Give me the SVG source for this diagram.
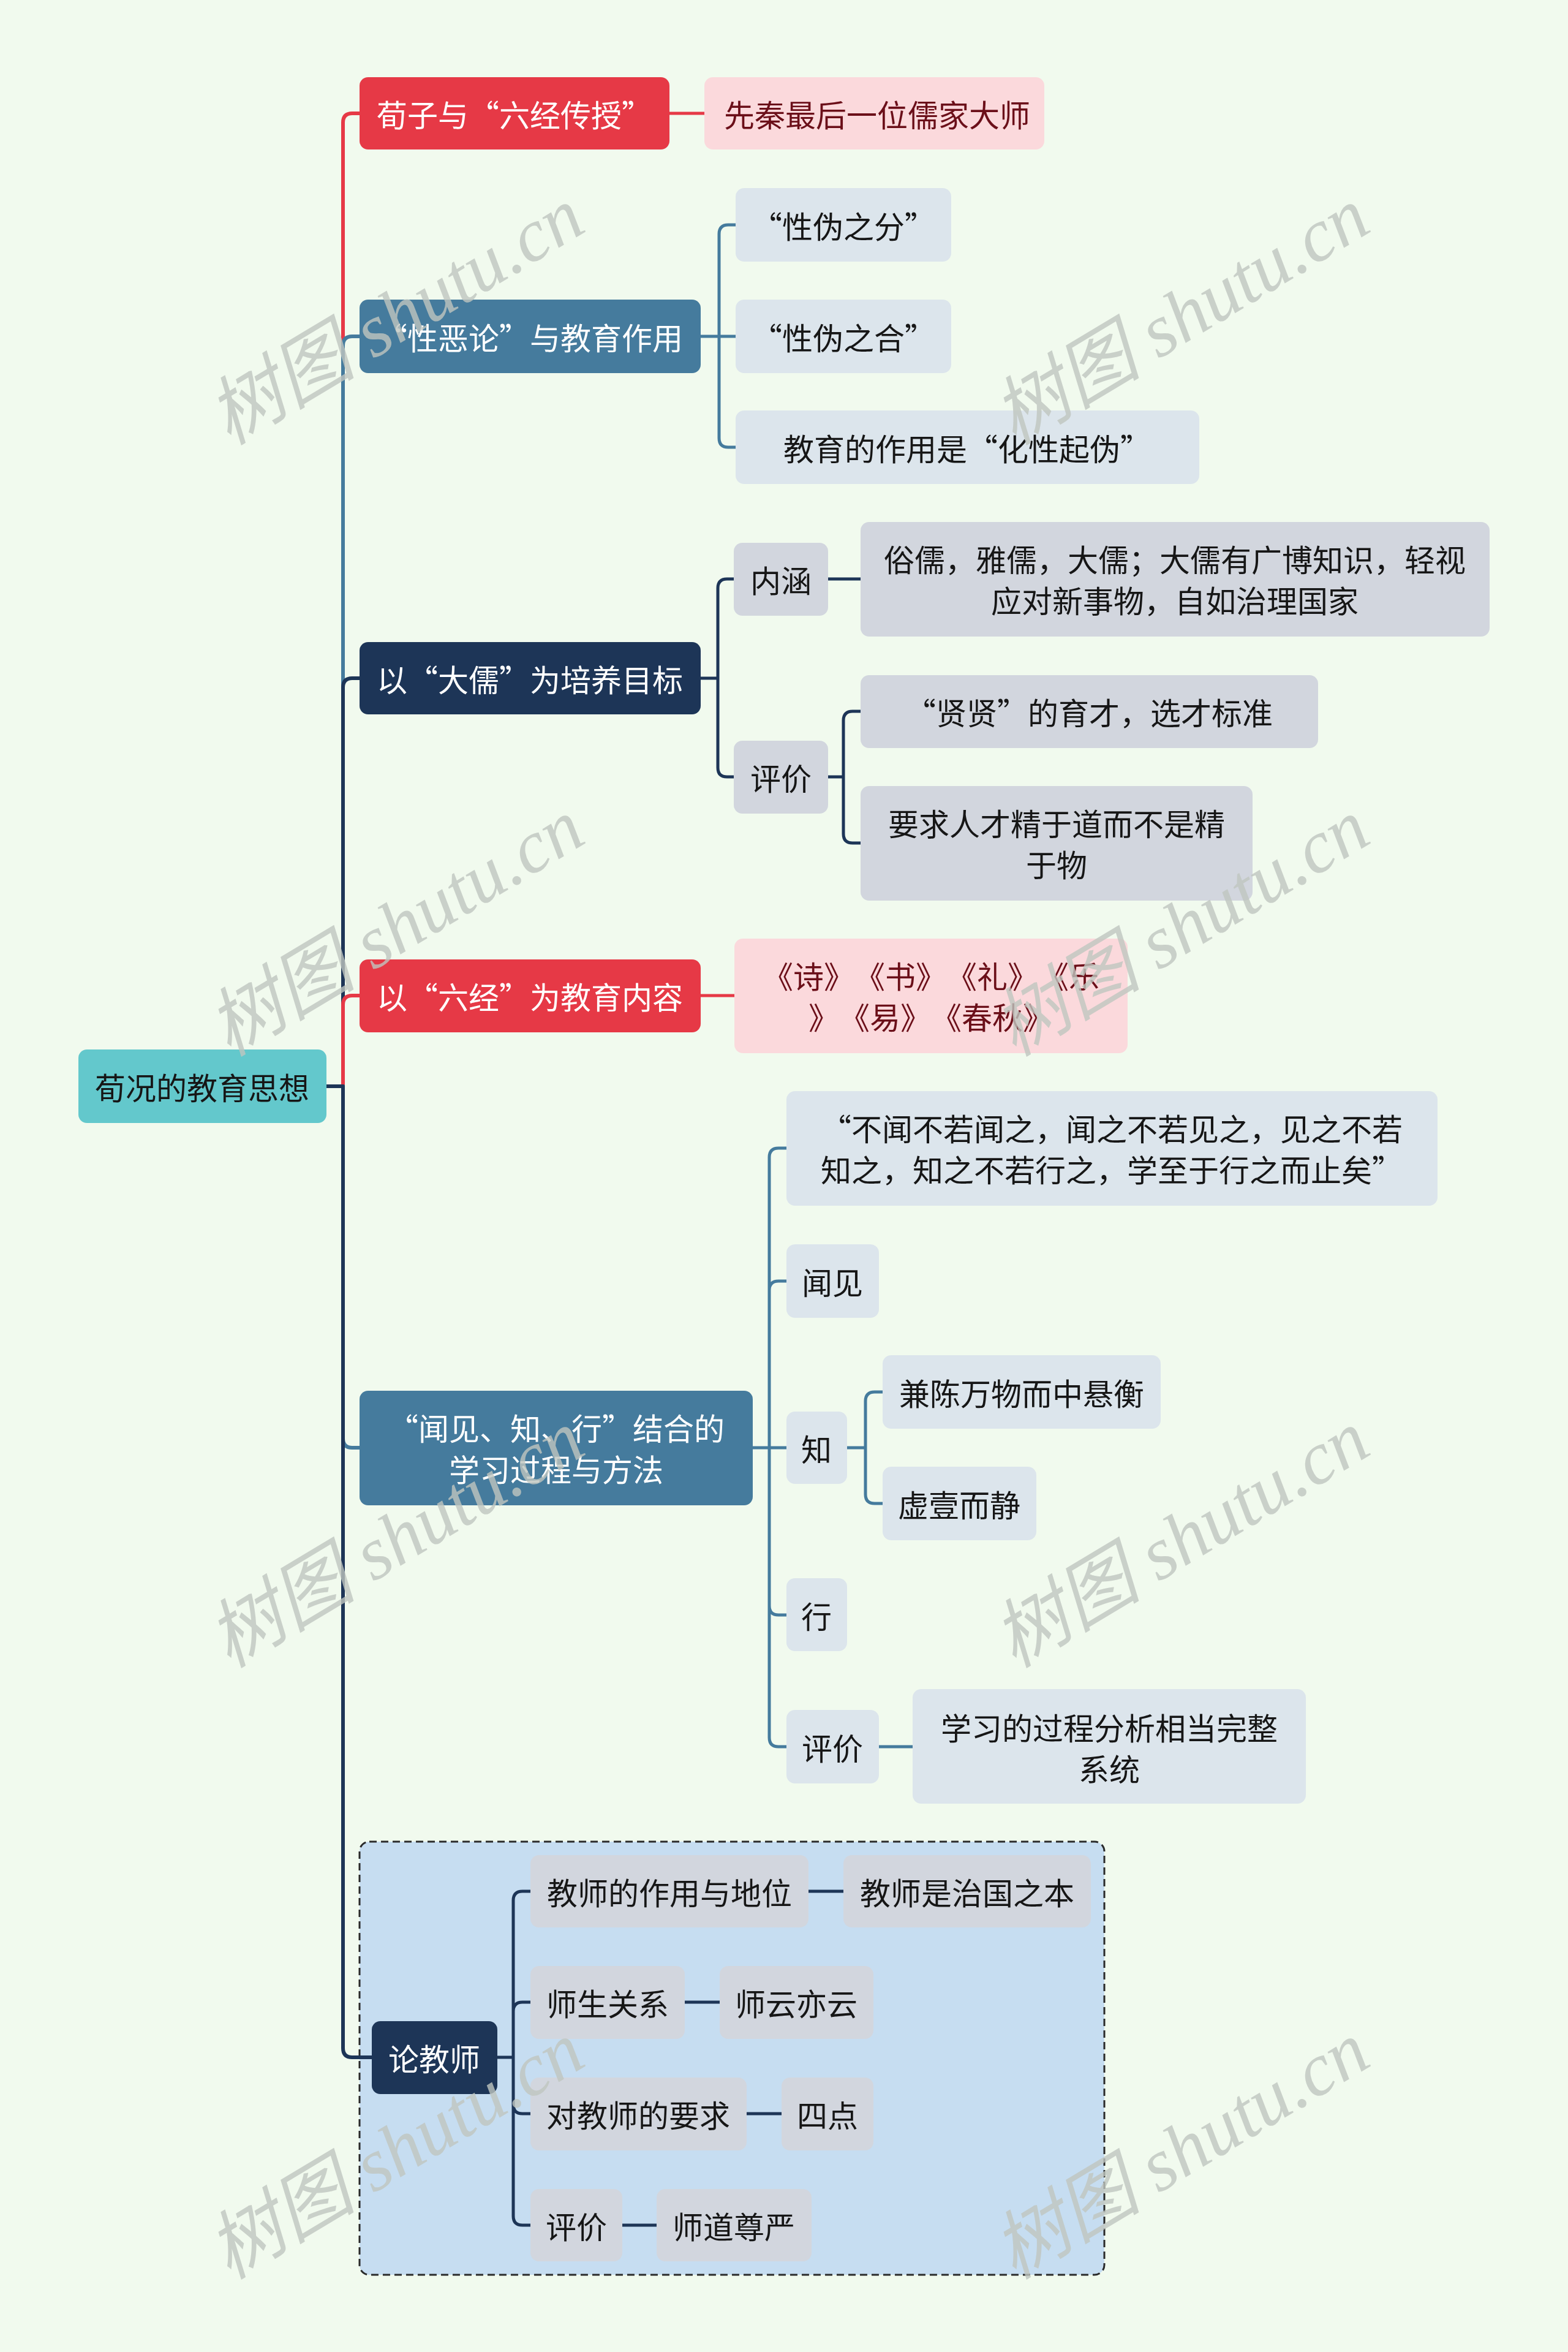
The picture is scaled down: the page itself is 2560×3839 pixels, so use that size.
<svg xmlns="http://www.w3.org/2000/svg" width="2560" height="3839" viewBox="0 0 2560 3839">
<style>
text{font-family:"Noto Sans CJK SC","Noto Sans",sans-serif;font-size:50px;dominant-baseline:central;text-anchor:middle}
.w{fill:#ffffff}
.d{fill:#161616}
.p{fill:#6b0f19}
.sp{text-spacing-trim:space-all}
.red{fill:#e63946}
.blue{fill:#457b9d}
.navy{fill:#1d3557}
.root{fill:#63c8cc}
.pink{fill:#fbd9dc}
.lb{fill:#dce5ec}
.gr{fill:#d2d6de}
.c{fill:none;stroke-width:5;stroke-linecap:round;stroke-linejoin:round}
.cr{stroke:#e63946}
.cb{stroke:#457b9d}
.cn{stroke:#1d3557}
.t{stroke-width:6}
.wm{font-family:"Liberation Serif","Noto Sans CJK SC",serif;font-style:italic;font-size:122px;fill:#bfc6bf;fill-opacity:0.8}
</style>
<rect x="0" y="0" width="2560" height="3839" fill="#f1faee"/>
<g id="container-teacher">
<rect x="587" y="3006" width="1216" height="707" rx="16" fill="#c6ddf1" stroke="#2a2a2a" stroke-width="3" stroke-dasharray="12 7"/>
</g>
<g id="connectors">
<path class="c cr t" d="M533 1773 H560 V200 Q560 185 575 185 H587"/>
<path class="c cb t" d="M533 1773 H560 V564 Q560 549 575 549 H587"/>
<path class="c cn t" d="M533 1773 H560 V1122 Q560 1107 575 1107 H587"/>
<path class="c cr t" d="M533 1773 H560 V1640 Q560 1625 575 1625 H587"/>
<path class="c cb t" d="M533 1773 H560 V2348 Q560 2363 575 2363 H587"/>
<path class="c cn t" d="M533 1773 H560 V3343 Q560 3358 575 3358 H607"/>
<path class="c cr" d="M1093 185 H1150"/>
<path class="c cb" d="M1144 549 H1201 M1174 549 V382 Q1174 367 1189 367 H1201 M1174 549 V715 Q1174 730 1189 730 H1201"/>
<path class="c cn" d="M1144 1107 H1172 M1172 1107 V960 Q1172 945 1187 945 H1198 M1172 1107 V1253 Q1172 1268 1187 1268 H1198"/>
<path class="c cn" d="M1352 945 H1405"/>
<path class="c cn" d="M1352 1268 H1377 M1377 1268 V1176 Q1377 1161 1392 1161 H1405 M1377 1268 V1361 Q1377 1376 1392 1376 H1405"/>
<path class="c cr" d="M1144 1625 H1199"/>
<path class="c cb" d="M1229 2363 H1284 M1256 2363 V1889 Q1256 1874 1271 1874 H1284 M1256 2363 V2106 Q1256 2091 1271 2091 H1284 M1256 2363 V2621 Q1256 2636 1271 2636 H1284 M1256 2363 V2836 Q1256 2851 1271 2851 H1284"/>
<path class="c cb" d="M1383 2363 H1413 M1413 2363 V2287 Q1413 2272 1428 2272 H1441 M1413 2363 V2439 Q1413 2454 1428 2454 H1441"/>
<path class="c cb" d="M1435 2851 H1490"/>
<path class="c cn" d="M812 3358 H838 M838 3358 V3102 Q838 3087 853 3087 H866 M838 3358 V3283 Q838 3268 853 3268 H866 M838 3358 V3435 Q838 3450 853 3450 H866 M838 3358 V3617 Q838 3632 853 3632 H866"/>
<path class="c cn" d="M1320 3087 H1377 M1118 3268 H1175 M1219 3450 H1276 M1016 3632 H1072"/>
</g>
<g id="root"><rect class="root" x="128" y="1713" width="405" height="120" rx="14"/><text class="d" x="330" y="1773">荀况的教育思想</text></g>
<g id="b1"><rect class="red" x="587" y="126" width="506" height="118" rx="14"/><text class="w" x="840" y="185">荀子与“六经传授”</text></g>
<g id="b1-1"><rect class="pink" x="1150" y="126" width="555" height="118" rx="14"/><text class="p" x="1432" y="185">先秦最后一位儒家大师</text></g>
<g id="b2"><rect class="blue" x="587" y="489" width="557" height="120" rx="14"/><text class="w" x="865" y="549">“性恶论”与教育作用</text></g>
<g id="b2-1"><rect class="lb" x="1201" y="307" width="352" height="120" rx="14"/><text class="d" x="1377" y="367">“性伪之分”</text></g>
<g id="b2-2"><rect class="lb" x="1201" y="489" width="352" height="120" rx="14"/><text class="d" x="1377" y="549">“性伪之合”</text></g>
<g id="b2-3"><rect class="lb" x="1201" y="670" width="757" height="120" rx="14"/><text class="d" x="1579" y="730">教育的作用是“化性起伪”</text></g>
<g id="b3"><rect class="navy" x="587" y="1048" width="557" height="118" rx="14"/><text class="w" x="865" y="1107">以“大儒”为培养目标</text></g>
<g id="b3-1"><rect class="gr" x="1198" y="886" width="154" height="119" rx="14"/><text class="d" x="1275" y="945">内涵</text></g>
<g id="b3-1-1"><rect class="gr" x="1405" y="852" width="1027" height="187" rx="14"/><text class="d" x="1918" y="911">俗儒，雅儒，大儒；大儒有广博知识，轻视</text><text class="d" x="1918" y="978">应对新事物，自如治理国家</text></g>
<g id="b3-2"><rect class="gr" x="1198" y="1209" width="154" height="119" rx="14"/><text class="d" x="1275" y="1268">评价</text></g>
<g id="b3-2-1"><rect class="gr" x="1405" y="1102" width="747" height="119" rx="14"/><text class="d" x="1778" y="1161">“贤贤”的育才，选才标准</text></g>
<g id="b3-2-2"><rect class="gr" x="1405" y="1283" width="640" height="187" rx="14"/><text class="d" x="1725" y="1342">要求人才精于道而不是精</text><text class="d" x="1725" y="1409">于物</text></g>
<g id="b4"><rect class="red" x="587" y="1566" width="557" height="119" rx="14"/><text class="w" x="865" y="1625">以“六经”为教育内容</text></g>
<g id="b4-1"><rect class="pink" x="1199" y="1532" width="642" height="187" rx="14"/><text class="p sp" x="1520" y="1591">《诗》《书》《礼》《乐</text><text class="p sp" x="1520" y="1658">》《易》《春秋》</text></g>
<g id="b5"><rect class="blue" x="587" y="2270" width="642" height="187" rx="14"/><text class="w" x="908" y="2329">“闻见、知、行”结合的</text><text class="w" x="908" y="2396">学习过程与方法</text></g>
<g id="b5-1"><rect class="lb" x="1284" y="1781" width="1063" height="187" rx="14"/><text class="d" x="1815" y="1840">“不闻不若闻之，闻之不若见之，见之不若</text><text class="d" x="1815" y="1907">知之，知之不若行之，学至于行之而止矣”</text></g>
<g id="b5-2"><rect class="lb" x="1284" y="2031" width="151" height="120" rx="14"/><text class="d" x="1359" y="2091">闻见</text></g>
<g id="b5-3"><rect class="lb" x="1284" y="2304" width="99" height="118" rx="14"/><text class="d" x="1333" y="2363">知</text></g>
<g id="b5-3-1"><rect class="lb" x="1441" y="2212" width="454" height="120" rx="14"/><text class="d" x="1668" y="2272">兼陈万物而中悬衡</text></g>
<g id="b5-3-2"><rect class="lb" x="1441" y="2394" width="251" height="120" rx="14"/><text class="d" x="1566" y="2454">虚壹而静</text></g>
<g id="b5-4"><rect class="lb" x="1284" y="2576" width="99" height="119" rx="14"/><text class="d" x="1333" y="2636">行</text></g>
<g id="b5-5"><rect class="lb" x="1284" y="2791" width="151" height="120" rx="14"/><text class="d" x="1359" y="2851">评价</text></g>
<g id="b5-5-1"><rect class="lb" x="1490" y="2757" width="642" height="187" rx="14"/><text class="d" x="1811" y="2818">学习的过程分析相当完整</text><text class="d" x="1811" y="2885">系统</text></g>
<g id="b6"><rect class="navy" x="607" y="3299" width="205" height="119" rx="14"/><text class="w" x="709" y="3358">论教师</text></g>
<g id="b6-1"><rect class="gr" x="866" y="3028" width="454" height="118" rx="14"/><text class="d" x="1093" y="3087">教师的作用与地位</text></g>
<g id="b6-1-1"><rect class="gr" x="1377" y="3028" width="404" height="118" rx="14"/><text class="d" x="1579" y="3087">教师是治国之本</text></g>
<g id="b6-2"><rect class="gr" x="866" y="3209" width="252" height="119" rx="14"/><text class="d" x="992" y="3268">师生关系</text></g>
<g id="b6-2-1"><rect class="gr" x="1175" y="3209" width="251" height="119" rx="14"/><text class="d" x="1300" y="3268">师云亦云</text></g>
<g id="b6-3"><rect class="gr" x="866" y="3391" width="353" height="119" rx="14"/><text class="d" x="1042" y="3450">对教师的要求</text></g>
<g id="b6-3-1"><rect class="gr" x="1276" y="3391" width="150" height="119" rx="14"/><text class="d" x="1351" y="3450">四点</text></g>
<g id="b6-4"><rect class="gr" x="866" y="3573" width="150" height="118" rx="14"/><text class="d" x="941" y="3632">评价</text></g>
<g id="b6-4-1"><rect class="gr" x="1072" y="3573" width="253" height="118" rx="14"/><text class="d" x="1198" y="3632">师道尊严</text></g>
<g id="watermarks">
<text class="wm" transform="translate(646 516) rotate(-31)">树图 shutu.cn</text>
<text class="wm" transform="translate(1928 516) rotate(-31)">树图 shutu.cn</text>
<text class="wm" transform="translate(646 1514) rotate(-31)">树图 shutu.cn</text>
<text class="wm" transform="translate(1928 1514) rotate(-31)">树图 shutu.cn</text>
<text class="wm" transform="translate(646 2512) rotate(-31)">树图 shutu.cn</text>
<text class="wm" transform="translate(1928 2512) rotate(-31)">树图 shutu.cn</text>
<text class="wm" transform="translate(646 3510) rotate(-31)">树图 shutu.cn</text>
<text class="wm" transform="translate(1928 3510) rotate(-31)">树图 shutu.cn</text>
</g>
</svg>
